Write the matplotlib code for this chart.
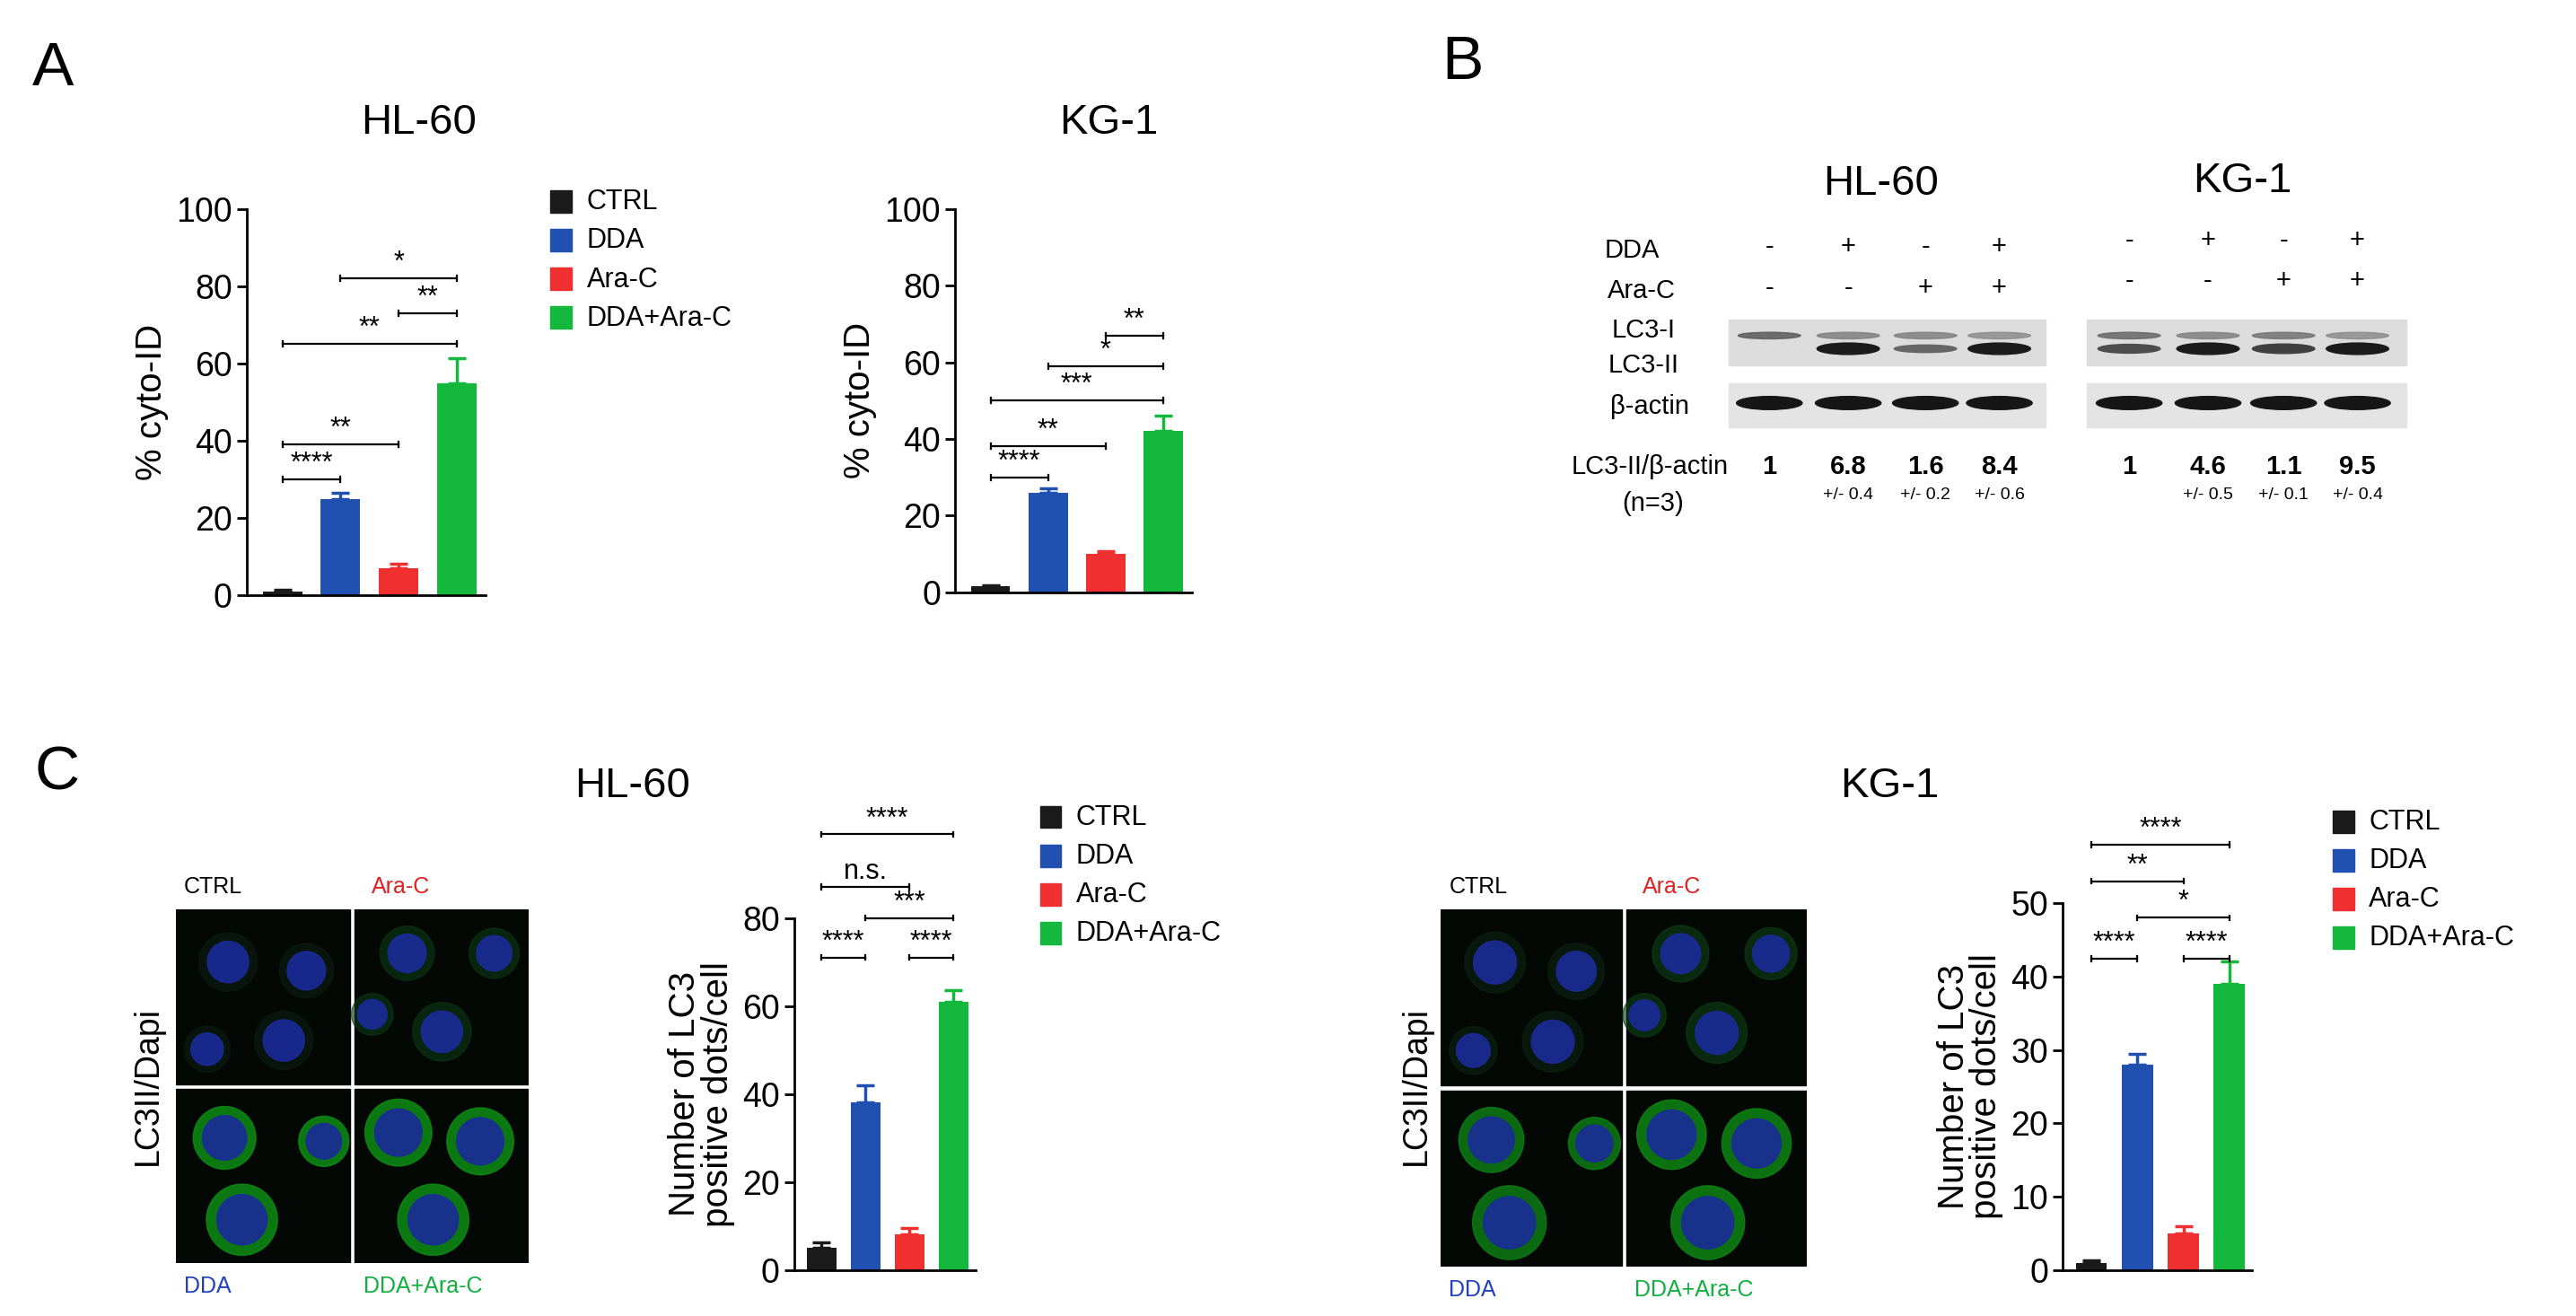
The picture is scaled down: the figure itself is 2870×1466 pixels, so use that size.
import matplotlib
matplotlib.use("Agg")
import matplotlib.pyplot as plt
from matplotlib.patches import Rectangle, Ellipse, Circle
import numpy as np

plt.rcParams['font.family'] = ['Liberation Sans', 'DejaVu Sans']

groups = ["CTRL", "DDA", "Ara-C", "DDA+Ara-C"]
colors = ["#1a1a1a", "#2151b0", "#f03030", "#14b83c"]

a_hl60 = [1, 25, 7, 55];   a_hl60_err = [0.4, 1.5, 1.2, 6.5]
a_kg1 = [1.5, 26, 10, 42]; a_kg1_err = [0.4, 1.0, 0.8, 4.0]
c_hl60 = [5, 38, 8, 61];   c_hl60_err = [1.2, 4, 1.5, 2.5]
c_kg1 = [1, 28, 5, 39];    c_kg1_err = [0.3, 1.5, 1.0, 3.0]

sig_a_hl60 = [(0, 1, 30, "****"), (0, 2, 39, "**"), (0, 3, 65, "**"), (2, 3, 73, "**"), (1, 3, 82, "*")]
sig_a_kg1 = [(0, 1, 30, "****"), (0, 2, 38, "**"), (0, 3, 50, "***"), (1, 3, 59, "*"), (2, 3, 67, "**")]
sig_c_hl60 = [(0, 1, 71, "****"), (2, 3, 71, "****"), (1, 3, 80, "***"), (0, 2, 87, "n.s."), (0, 3, 99, "****")]
sig_c_kg1 = [(0, 1, 42.4, "****"), (2, 3, 42.4, "****"), (1, 3, 48, "*"), (0, 2, 53, "**"), (0, 3, 58, "****")]

blot_ratio_hl60 = ["1", "6.8", "1.6", "8.4"]; blot_sd_hl60 = ["", "+/- 0.4", "+/- 0.2", "+/- 0.6"]
blot_ratio_kg1 = ["1", "4.6", "1.1", "9.5"];  blot_sd_kg1 = ["", "+/- 0.5", "+/- 0.1", "+/- 0.4"]
dda_row = ["-", "+", "-", "+"]; arac_row = ["-", "-", "+", "+"]

W, H = 1568, 800
fig = plt.figure(figsize=(28.7, 14.66), dpi=100)

def fx(x): return x / W
def fy(y): return 1 - y / H

def bar_panel(first, sp, y0, ytop, ymax, ticks, vals, errs, sigs, ylabel, title, title_xy, width=0.68):
    left = first - 0.62 * sp; right = first + 3.5 * sp
    ax = fig.add_axes([fx(left), fy(y0), fx(right) - fx(left), fy(ytop) - fy(y0)])
    x = np.arange(4)
    ax.bar(x, vals, width=width, color=colors)
    for i in range(4):
        ax.errorbar(x[i], vals[i], yerr=[[0], [errs[i]]], color=colors[i], capsize=7, elinewidth=2.5, capthick=2.5)
    ax.set_xlim(-0.62, 3.5); ax.set_ylim(0, ymax)
    ax.set_yticks(ticks)
    ax.tick_params(axis='y', labelsize=27, width=2, length=8)
    ax.set_xticks([])
    for s in ["top", "right"]: ax.spines[s].set_visible(False)
    ax.spines["left"].set_linewidth(2); ax.spines["bottom"].set_linewidth(2)
    ax.set_ylabel(ylabel, fontsize=29, labelpad=6, linespacing=0.95)
    for a, b, y, t in sigs:
        ax.plot([a, b], [y, y], color="black", lw=1.6, clip_on=False)
        for e in (a, b):
            ax.plot([e, e], [y - ymax * 0.007, y + ymax * 0.007], color="black", lw=1.6, clip_on=False)
        ax.text((a + b) / 2, y + ymax * 0.005, t, ha="center", va="bottom", fontsize=22, clip_on=False)
    fig.text(fx(title_xy[0]), fy(title_xy[1]), title, ha="center", va="center", fontsize=34)
    return ax

def legend(x, y, dy):
    for i, (g, c) in enumerate(zip(groups, colors)):
        yy = y + i * dy
        fig.patches.append(Rectangle((fx(x), fy(yy) - 0.008), fx(13), 0.017, color=c, transform=fig.transFigure))
        fig.text(fx(x + 22), fy(yy), g, fontsize=22, va="center")

# Panel A
fig.text(fx(32), fy(42), "A", fontsize=50, va="center", ha="center")
bar_panel(172, 35.3, 362, 127, 100, [0, 20, 40, 60, 80, 100], a_hl60, a_hl60_err, sig_a_hl60, "% cyto-ID", "HL-60", (255, 75))
legend(335, 123, 23.5)
bar_panel(603, 35.0, 360, 127, 100, [0, 20, 40, 60, 80, 100], a_kg1, a_kg1_err, sig_a_kg1, "% cyto-ID", "KG-1", (675, 75))

# Panel B (blot)
fig.text(fx(890), fy(38), "B", fontsize=50, va="center", ha="center")
axb = fig.add_axes([fx(930), fy(330), fx(1520) - fx(930), fy(80) - fy(330)])
axb.set_xlim(930, 1520); axb.set_ylim(330, 80); axb.axis("off")
fs = 21
axb.text(1145, 112, "HL-60", ha="center", va="center", fontsize=34)
axb.text(1365, 110, "KG-1", ha="center", va="center", fontsize=34)
axb.text(1010, 152, "DDA", ha="right", va="center", fontsize=fs)
axb.text(1020, 177, "Ara-C", ha="right", va="center", fontsize=fs)
axb.text(1020, 201, "LC3-I", ha="right", va="center", fontsize=fs)
axb.text(1022, 222, "LC3-II", ha="right", va="center", fontsize=fs)
axb.text(1028, 247, "β-actin", ha="right", va="center", fontsize=fs)
axb.text(1052, 284, "LC3-II/β-actin", ha="right", va="center", fontsize=fs)
axb.text(1025, 306, "(n=3)", ha="right", va="center", fontsize=fs)
hl_lanes = [1077, 1125, 1172, 1217]
kg_lanes = [1296, 1344, 1390, 1435]
lc3i_hl = [0.8, 0.5, 0.5, 0.4]; lc3ii_hl = [0.0, 1.0, 0.4, 1.0]
lc3i_kg = [0.7, 0.5, 0.6, 0.4]; lc3ii_kg = [0.6, 1.0, 0.7, 1.0]
for lanes, x0, x1, li, lii, ratios, sds, top in [(hl_lanes, 1052, 1245, lc3i_hl, lc3ii_hl, blot_ratio_hl60, blot_sd_hl60, 150),
                                               (kg_lanes, 1270, 1465, lc3i_kg, lc3ii_kg, blot_ratio_kg1, blot_sd_kg1, 146)]:
    axb.add_patch(Rectangle((x0, 194), x1 - x0, 28, color="#dcdcdc", zorder=0))
    axb.add_patch(Rectangle((x0, 233), x1 - x0, 27, color="#e4e4e4", zorder=0))
    for i, lx in enumerate(lanes):
        axb.text(lx, top, dda_row[i], ha="center", va="center", fontsize=fs)
        axb.text(lx, top + 25, arac_row[i], ha="center", va="center", fontsize=fs)
        axb.add_patch(Ellipse((lx, 204), 38, 4, color=str(0.25 + 0.5 * (1 - li[i])), alpha=0.85))
        if lii[i] > 0:
            axb.add_patch(Ellipse((lx, 212), 38, 3 + 4 * lii[i], color=str(0.1 + 0.5 * (1 - lii[i]))))
        axb.add_patch(Ellipse((lx, 245), 40, 8, color="#161616"))
        axb.text(lx, 284, ratios[i], ha="center", va="center", fontsize=fs, fontweight="bold")
        axb.text(lx, 301, sds[i], ha="center", va="center", fontsize=14)

# Panel C micrographs
fig.text(fx(35), fy(470), "C", fontsize=50, va="center", ha="center")

cells_hl = [[(0.3, 0.7, 0.14), (0.75, 0.65, 0.13), (0.62, 0.25, 0.14), (0.18, 0.2, 0.11)],
            [(0.3, 0.75, 0.13), (0.8, 0.75, 0.12), (0.5, 0.3, 0.14), (0.1, 0.4, 0.1)],
            [(0.28, 0.72, 0.15), (0.38, 0.25, 0.17), (0.85, 0.7, 0.12)],
            [(0.25, 0.75, 0.16), (0.72, 0.7, 0.16), (0.45, 0.25, 0.17)]]
green_hl = [0.05, 0.25, 0.9, 0.9]

def micro(x0, y0, w, h, gap, cells, greens, labels):
    ax = fig.add_axes([fx(x0), fy(y0 + 2 * h + gap), fx(2 * w + gap), fy(y0) - fy(y0 + 2 * h + gap)])
    ax.set_xlim(0, 2 * w + gap); ax.set_ylim(2 * h + gap, 0); ax.axis("off")
    pos = [(0, 0), (w + gap, 0), (0, h + gap), (w + gap, h + gap)]
    for k, (px, py) in enumerate(pos):
        ax.add_patch(Rectangle((px, py), w, h, color="#030805"))
        for cx, cy, r in cells[k]:
            g = greens[k]
            ax.add_patch(Circle((px + cx * w, py + (1 - cy) * h), r * w * 1.2,
                                color=(0.05, 0.1 + 0.5 * g, 0.08), alpha=0.5 + 0.4 * g))
            ax.add_patch(Circle((px + cx * w, py + (1 - cy) * h), r * w * 0.85, color=(0.1, 0.17, 0.6), alpha=0.9))
    t, tr, bl, br = labels
    fig.text(fx(x0 + 5), fy(y0 - 14), t, fontsize=18, va="center")
    fig.text(fx(x0 + w + gap + 10), fy(y0 - 14), tr, fontsize=18, va="center", color="#e02020")
    fig.text(fx(x0 + 5), fy(y0 + 2 * h + gap + 14), bl, fontsize=18, va="center", color="#2040c0")
    fig.text(fx(x0 + w + gap + 5), fy(y0 + 2 * h + gap + 14), br, fontsize=18, va="center", color="#10b040")

micro(107, 553, 106, 106, 3, cells_hl, green_hl, ["CTRL", "Ara-C", "DDA", "DDA+Ara-C"])
fig.text(fx(90), fy(660), "LC3II/Dapi", rotation=90, fontsize=27, va="center", ha="center")
micro(877, 553, 110, 107, 3, cells_hl, [0.1, 0.3, 0.8, 0.85], ["CTRL", "Ara-C", "DDA", "DDA+Ara-C"])
fig.text(fx(862), fy(660), "LC3II/Dapi", rotation=90, fontsize=27, va="center", ha="center")

bar_panel(500, 26.8, 772, 558, 80, [0, 20, 40, 60, 80], c_hl60, c_hl60_err, sig_c_hl60,
          "Number of LC3\npositive dots/cell", "HL-60", (385, 478))
legend(633, 497, 23.5)
bar_panel(1273, 28.0, 772, 549, 50, [0, 10, 20, 30, 40, 50], c_kg1, c_kg1_err, sig_c_kg1,
          "Number of LC3\npositive dots/cell", "KG-1", (1150, 478))
legend(1420, 500, 23.5)

fig.savefig("out.png", dpi=100, facecolor="white")
